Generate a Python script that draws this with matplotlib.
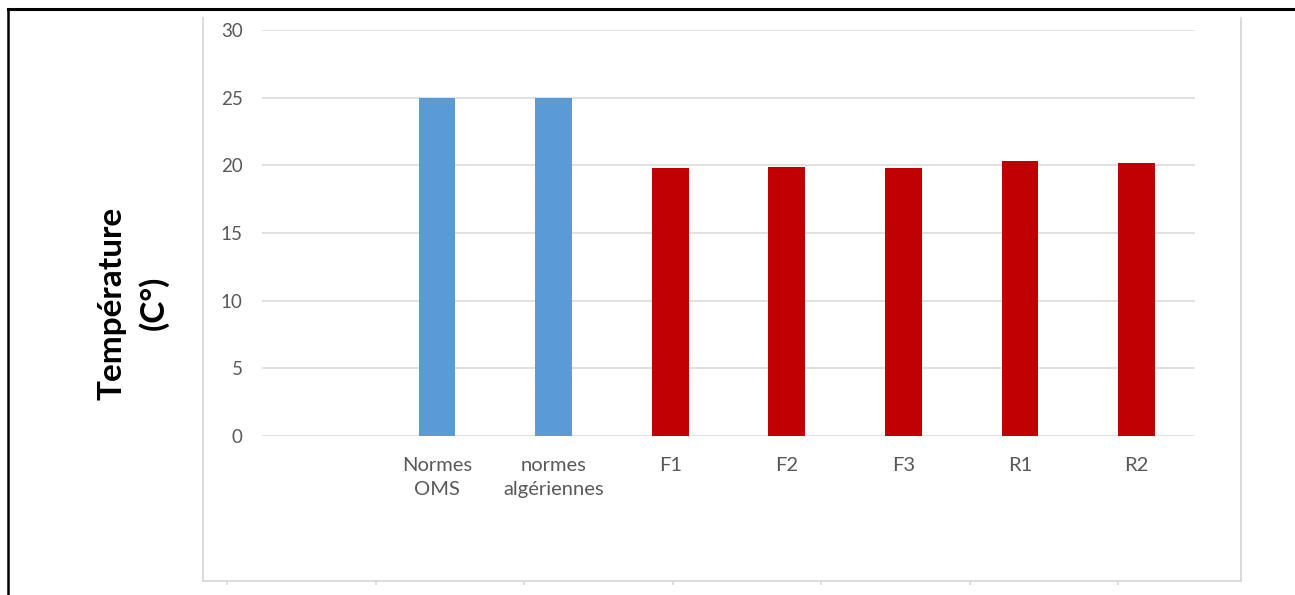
import numpy as np
import matplotlib
matplotlib.use('Agg')
from matplotlib import pyplot as plt
from matplotlib.lines import Line2D

# Data
categories = ['', 'Normes\nOMS', 'normes\nalgériennes', 'F1', 'F2', 'F3', 'R1', 'R2']
values = [np.nan, 25, 25, 19.8, 19.9, 19.8, 20.3, 20.2]
bar_colors = ['#5B9BD5', '#5B9BD5', '#5B9BD5', '#C00000', '#C00000', '#C00000', '#C00000', '#C00000']
y_ticks = [0, 5, 10, 15, 20, 25, 30]

plt.rcParams['font.family'] = ['Lato', 'DejaVu Sans']
W, H = 1295, 595
fig = plt.figure(figsize=(W / 100, H / 100), dpi=100)

# light grey chart-area frame (bottom ticks, no labels)
ax_bg = fig.add_axes([203 / W, (H - 581) / H, (1241 - 203) / W, (581 - 18) / H], zorder=0)
ax_bg.set_xlim(-0.162, 6.828)
ax_bg.set_ylim(0, 1)
ax_bg.set_xticks(range(7))
ax_bg.set_xticklabels([])
ax_bg.set_yticks([])
ax_bg.tick_params(axis='x', length=3, width=1.2, color='#d9d9d9', direction='out')
ax_bg.spines['top'].set_visible(False)
for s in ['left', 'right', 'bottom']:
    ax_bg.spines[s].set_color('#d9d9d9')
    ax_bg.spines[s].set_linewidth(1.3)

# main plot
ax = fig.add_axes([262 / W, (H - 436) / H, (1195 - 262) / W, (436 - 30) / H], zorder=1)
ax.patch.set_alpha(0)
x = np.arange(len(categories))
ax.bar(x, values, width=0.315, color=bar_colors, zorder=3)
ax.set_xlim(-0.5, len(categories) - 0.5)
ax.set_ylim(0, 30)
ax.set_yticks(y_ticks)
ax.set_xticks(x)
ax.set_xticklabels(categories, linespacing=1.5)
ax.yaxis.grid(True, color='#d9d9d9', linewidth=1.1, zorder=0)
ax.set_axisbelow(True)
for s in ax.spines.values():
    s.set_visible(False)
ax.tick_params(axis='y', length=0, pad=14, labelsize=13.5, labelcolor='#595959')
ax.tick_params(axis='x', length=0, pad=15, labelsize=14.5, labelcolor='#595959')

# y-axis title
fig.text(133 / W, (H - 303) / H, 'Température\n(C°)', rotation=90, ha='center', va='center',
         multialignment='center', fontsize=24, fontweight='bold', color='black', linespacing=1.45)

# black outer frame (top and left edges visible)
fig.add_artist(Line2D([7.5 / W, 7.5 / W], [0, 1 - 8.5 / H], transform=fig.transFigure, color='black', linewidth=1.8))
fig.add_artist(Line2D([7.5 / W, 1], [1 - 8.5 / H, 1 - 8.5 / H], transform=fig.transFigure, color='black', linewidth=2.2))

fig.savefig('out.png', dpi=100)
